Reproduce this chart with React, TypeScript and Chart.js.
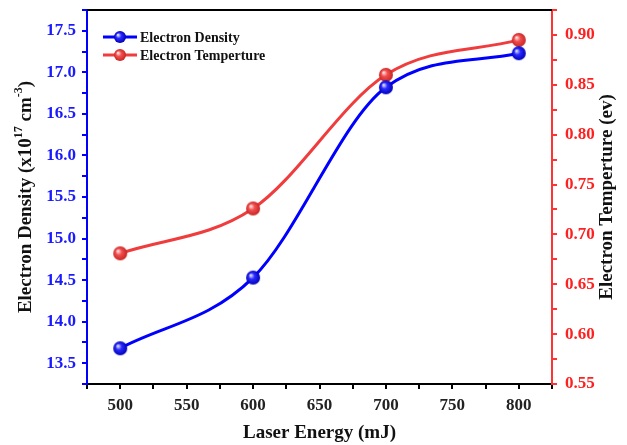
import React, { useEffect, useRef } from "react";
import { Chart, registerables } from "chart.js";

Chart.register(...registerables);

const energies = [500, 600, 700, 800];
const densityValues = [13.68, 14.53, 16.82, 17.23];
const temperatureValues = [0.681, 0.726, 0.86, 0.895];
const seriesNames = ["Electron Density", "Electron Temperture"];
const xTitle = "Laser Energy (mJ)";

const BLUE = "#0000ff";
const RED = "#f03c3c";
const FONT = "'Liberation Serif', 'Times New Roman', serif";

function makeSphere(r: number, light: string, mid: string, dark: string) {
  const c = document.createElement("canvas");
  const s = r * 2 + 2;
  c.width = s;
  c.height = s;
  const g = c.getContext("2d")!;
  const cx = s / 2;
  const grad = g.createRadialGradient(cx - r * 0.35, cx - r * 0.35, 0.5, cx, cx, r);
  grad.addColorStop(0, light);
  grad.addColorStop(0.4, mid);
  grad.addColorStop(1, dark);
  g.fillStyle = grad;
  g.beginPath();
  g.arc(cx, cx, r, 0, Math.PI * 2);
  g.fill();
  return c;
}

export default function App() {
  const ref = useRef<HTMLCanvasElement | null>(null);

  useEffect(() => {
    if (!ref.current) return;
    const blueSphere = makeSphere(7, "#e0e0ff", "#2a2aff", "#0000b8");
    const redSphere = makeSphere(7, "#ffe0e0", "#f25050", "#c82424");
    const blueSmall = makeSphere(6, "#e0e0ff", "#2a2aff", "#0000b8");
    const redSmall = makeSphere(6, "#ffe0e0", "#f25050", "#c82424");

    const decor = {
      id: "decor",
      afterDraw(chart: any) {
        const { ctx, chartArea } = chart;
        const { left, right, top, bottom } = chartArea;
        ctx.save();
        // top border
        ctx.strokeStyle = "#000";
        ctx.lineWidth = 2;
        ctx.beginPath();
        ctx.moveTo(left, top);
        ctx.lineTo(right, top);
        ctx.stroke();

        // legend
        const items = [
          { name: seriesNames[0], color: BLUE, img: blueSmall },
          { name: seriesNames[1], color: RED, img: redSmall },
        ];
        ctx.font = `bold 14px ${FONT}`;
        ctx.textBaseline = "middle";
        ctx.textAlign = "left";
        items.forEach((it, i) => {
          const y = top + 27 + i * 18;
          const x0 = left + 16;
          ctx.strokeStyle = it.color;
          ctx.lineWidth = 3;
          ctx.beginPath();
          ctx.moveTo(x0, y);
          ctx.lineTo(x0 + 34, y);
          ctx.stroke();
          ctx.drawImage(it.img, x0 + 17 - it.img.width / 2, y - it.img.height / 2);
          ctx.fillStyle = "#111";
          ctx.fillText(it.name, x0 + 37, y + 1);
        });

        // left y title with superscripts
        const cy = (top + bottom) / 2;
        const parts: [string, boolean][] = [
          ["Electron Density (x10", false],
          ["17", true],
          [" cm", false],
          ["-3", true],
          [")", false],
        ];
        const big = `bold 19px ${FONT}`;
        const small = `bold 12px ${FONT}`;
        let total = 0;
        parts.forEach(([t, sup]) => {
          ctx.font = sup ? small : big;
          total += ctx.measureText(t).width;
        });
        ctx.save();
        ctx.translate(26, cy);
        ctx.rotate(-Math.PI / 2);
        ctx.fillStyle = "#111";
        ctx.textBaseline = "middle";
        let x = -total / 2;
        parts.forEach(([t, sup]) => {
          ctx.font = sup ? small : big;
          ctx.fillText(t, x, sup ? -7 : 0);
          x += ctx.measureText(t).width;
        });
        ctx.restore();

        // right y title (reads bottom to top)
        ctx.save();
        ctx.translate(607, cy);
        ctx.rotate(-Math.PI / 2);
        ctx.font = big;
        ctx.fillStyle = "#111";
        ctx.textAlign = "center";
        ctx.textBaseline = "middle";
        ctx.fillText("Electron Temperture (ev)", 0, 0);
        ctx.restore();
        ctx.restore();
      },
    };

    const chart = new Chart(ref.current, {
      type: "line",
      data: {
        datasets: [
          {
            label: seriesNames[0],
            data: energies.map((e, i) => ({ x: e, y: densityValues[i] })),
            borderColor: BLUE,
            borderWidth: 3,
            pointStyle: blueSphere as any,
            pointRadius: 7,
            cubicInterpolationMode: "monotone",
            yAxisID: "y",
          },
          {
            label: seriesNames[1],
            data: energies.map((e, i) => ({ x: e, y: temperatureValues[i] })),
            borderColor: RED,
            borderWidth: 3,
            pointStyle: redSphere as any,
            pointRadius: 7,
            cubicInterpolationMode: "monotone",
            yAxisID: "y1",
          },
        ],
      },
      options: {
        animation: false,
        responsive: false,
        layout: { padding: { top: 5, left: 0, right: 0, bottom: 0 } },
        plugins: { legend: { display: false }, tooltip: { enabled: false } },
        scales: {
          x: {
            type: "linear",
            min: 475,
            max: 825,
            afterFit: (s: any) => {
              s.height = 61;
              s.paddingLeft = 0;
              s.paddingRight = 0;
            },
            border: { color: "#000", width: 2 },
            grid: { drawOnChartArea: false, tickLength: 5, color: "#000", lineWidth: 2 },
            ticks: {
              stepSize: 25,
              autoSkip: false,
              maxRotation: 0,
              padding: 6,
              color: "#222",
              font: { family: FONT, size: 17, weight: "bold" },
              callback: (v: any) => (Number(v) % 50 === 0 ? String(v) : ""),
            },
            title: {
              display: true,
              text: xTitle,
              color: "#111",
              font: { family: FONT, size: 19, weight: "bold" },
              padding: { top: 2, bottom: 1 },
            },
          },
          y: {
            type: "linear",
            position: "left",
            min: 13.25,
            max: 17.75,
            afterFit: (s: any) => {
              s.width = 87;
              s.paddingTop = 0;
              s.paddingBottom = 0;
            },
            border: { color: BLUE, width: 2 },
            grid: { drawOnChartArea: false, tickLength: 5, color: BLUE, lineWidth: 2 },
            ticks: {
              stepSize: 0.25,
              autoSkip: false,
              padding: 6,
              color: "#1a1aff",
              font: { family: FONT, size: 17, weight: "bold" },
              callback: (v: any) => {
                const n = Math.round(Number(v) * 100);
                return n % 50 === 0 ? (n / 100).toFixed(1) : "";
              },
            },
          },
          y1: {
            type: "linear",
            position: "right",
            min: 0.55,
            max: 0.925,
            afterFit: (s: any) => {
              s.width = 75;
              s.paddingTop = 0;
              s.paddingBottom = 0;
            },
            border: { color: "#ff3333", width: 2 },
            grid: { drawOnChartArea: false, tickLength: 5, color: "#ff3333", lineWidth: 2 },
            ticks: {
              stepSize: 0.025,
              autoSkip: false,
              padding: 8,
              color: "#ff2020",
              font: { family: FONT, size: 17, weight: "bold" },
              callback: (v: any) => {
                const n = Math.round(Number(v) * 1000);
                return n % 50 === 0 ? (n / 1000).toFixed(2) : "";
              },
            },
          },
        },
      },
      plugins: [decor],
    });
    return () => chart.destroy();
  }, []);

  return (
    <div style={{ position: "absolute", left: 0, top: 0, width: 627, height: 445 }}>
      <canvas ref={ref} width={627} height={445} style={{ width: 627, height: 445 }} />
    </div>
  );
}
